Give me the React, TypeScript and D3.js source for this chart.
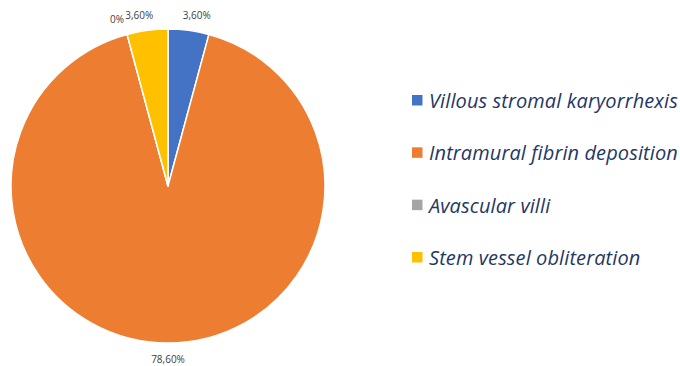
import React from "react";
import * as d3 from "d3";

const categories = [
  "Villous stromal karyorrhexis",
  "Intramural fibrin deposition",
  "Avascular villi",
  "Stem vessel obliteration",
];
const values = [3.6, 78.6, 0, 3.6];
const colors = ["#4472C4", "#ED7D31", "#A5A5A5", "#FFC000"];

const W = 680;
const H = 366;
const cx = 168;
const cy = 186;
const R = 157;

function fmt(v: number) {
  return v === 0 ? "0%" : v.toFixed(2).replace(".", ",") + "%";
}

export default function App() {
  const pie = d3
    .pie<number>()
    .sort(null)
    .value((d) => d)
    .startAngle(0)
    .endAngle(2 * Math.PI);
  const arcs = pie(values);
  const arc = d3.arc<d3.PieArcDatum<number>>().innerRadius(0).outerRadius(R);

  const legendY = d3
    .scalePoint<string>()
    .domain(categories)
    .range([100.5, 257.5]);

  return (
    <svg
      width={W}
      height={H}
      style={{ position: "absolute", left: 0, top: 0, background: "#fff" }}
    >
      <g transform={`translate(${cx},${cy})`}>
        {arcs.map((a, i) => (
          <path
            key={i}
            d={arc(a) || ""}
            fill={colors[i]}
            stroke="#fff"
            strokeWidth={1.5}
            strokeLinejoin="round"
          />
        ))}
        {arcs.map((a, i) => {
          const mid = (a.startAngle + a.endAngle) / 2;
          const s = Math.sin(mid);
          const c = Math.cos(mid);
          const d = R + 16;
          const x = s * d + (Math.abs(s) > 0.01 ? Math.sign(s) * 6 : 0);
          const y = -c * d;
          return (
            <text
              key={"l" + i}
              x={x}
              y={y}
              textAnchor="middle"
              dominantBaseline="central"
              fontFamily="'Open Sans', sans-serif"
              fontSize={10}
              fill="#404040"
            >
              {fmt(values[i])}
            </text>
          );
        })}
      </g>
      <g>
        {categories.map((cat, i) => {
          const y = legendY(cat) as number;
          return (
            <g key={cat}>
              <rect x={412} y={y - 5.5} width={10.5} height={10.5} fill={colors[i]} />
              <text
                x={429}
                y={y}
                dominantBaseline="central"
                fontFamily="'Open Sans', sans-serif"
                fontStyle="italic"
                fontSize={20}
                letterSpacing={0.1}
                fill="#1F3864"
              >
                {cat}
              </text>
            </g>
          );
        })}
      </g>
    </svg>
  );
}
